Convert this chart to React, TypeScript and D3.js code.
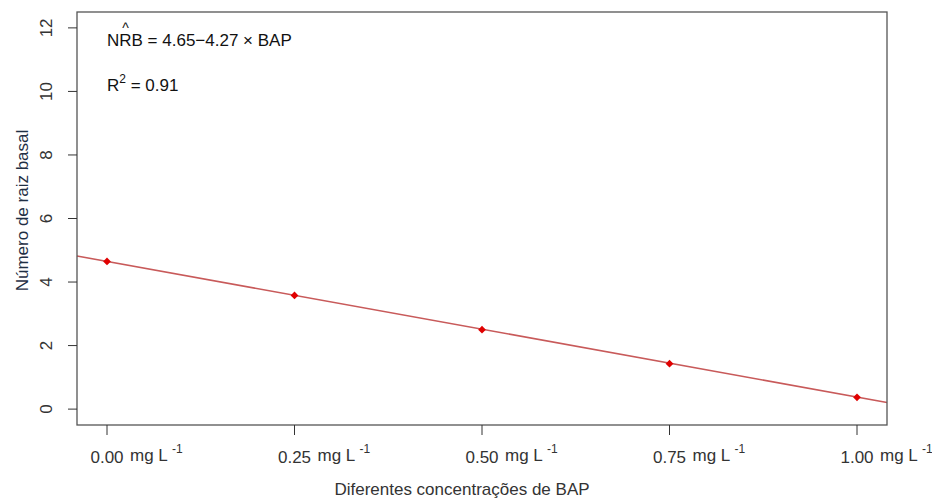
import React, { useRef, useEffect } from "react";
import * as d3 from "d3";

const doses = [0, 0.25, 0.5, 0.75, 1.0];
const roots = [4.65, 3.58, 2.5, 1.43, 0.37];
const xTicks = [0, 0.25, 0.5, 0.75, 1.0];
const yTicks = [0, 2, 4, 6, 8, 10, 12];
const intercept = 4.65;
const slope = -4.27;

const W = 932;
const H = 499;
const margin = { top: 12, right: 45, bottom: 74, left: 77 };

const App = () => {
  const svgRef = useRef<SVGSVGElement>(null);

  useEffect(() => {
    const svg = d3.select(svgRef.current);
    svg.selectAll("*").remove();

    const font = "'Liberation Sans', Arial, sans-serif";
    const fs = "17px";

    const x = d3.scaleLinear().domain([-0.04, 1.04]).range([margin.left, W - margin.right]);
    const y = d3.scaleLinear().domain([-0.5, 12.5]).range([H - margin.bottom, margin.top]);

    svg.append("rect").attr("width", W).attr("height", H).attr("fill", "#ffffff");

    // fitted line across the plot box
    const [x0, x1] = x.domain();
    svg.append("line")
      .attr("x1", x(x0)).attr("y1", y(intercept + slope * x0))
      .attr("x2", x(x1)).attr("y2", y(intercept + slope * x1))
      .attr("stroke", "#c85a5a")
      .attr("stroke-width", 1.6);

    // points (filled diamonds)
    svg.selectAll(".pt")
      .data(doses)
      .enter()
      .append("path")
      .attr("class", "pt")
      .attr("d", d3.symbol(d3.symbolSquare, 30)())
      .attr("transform", (d, i) => `translate(${x(d)},${y(roots[i])}) rotate(45)`)
      .attr("fill", "#e00000");

    // plot box
    svg.append("rect")
      .attr("x", margin.left)
      .attr("y", margin.top)
      .attr("width", W - margin.left - margin.right)
      .attr("height", H - margin.top - margin.bottom)
      .attr("fill", "none")
      .attr("stroke", "#555555")
      .attr("stroke-width", 1.3);

    // y axis
    const yAxis = svg.append("g");
    yAxis.selectAll("line")
      .data(yTicks)
      .enter()
      .append("line")
      .attr("x1", margin.left - 9).attr("x2", margin.left)
      .attr("y1", (d) => y(d)).attr("y2", (d) => y(d))
      .attr("stroke", "#333333");
    yAxis.selectAll("text")
      .data(yTicks)
      .enter()
      .append("text")
      .attr("transform", (d) => `translate(52,${y(d)}) rotate(-90)`)
      .attr("text-anchor", "middle")
      .style("font-family", font)
      .style("font-size", fs)
      .attr("fill", "#333333")
      .text((d) => d);

    // x axis
    const xb = H - margin.bottom;
    const xAxis = svg.append("g");
    xAxis.selectAll("line")
      .data(xTicks)
      .enter()
      .append("line")
      .attr("x1", (d) => x(d)).attr("x2", (d) => x(d))
      .attr("y1", xb).attr("y2", xb + 10)
      .attr("stroke", "#333333");
    const lbl = xAxis.selectAll(".xl")
      .data(xTicks)
      .enter()
      .append("g")
      .attr("class", "xl")
      .attr("transform", (d) => `translate(${x(d)},0)`);
    lbl.append("text")
      .attr("y", 463)
      .attr("text-anchor", "middle")
      .style("font-family", font)
      .style("font-size", fs)
      .attr("fill", "#333333")
      .text((d) => d3.format(".2f")(d));
    const unit = lbl.append("text")
      .attr("x", 23)
      .attr("y", 461)
      .style("font-family", font)
      .style("font-size", fs)
      .attr("fill", "#333333");
    unit.append("tspan").text("mg L ");
    unit.append("tspan")
      .attr("dy", -8)
      .style("font-size", "12px")
      .text("-1");

    // axis titles
    svg.append("text")
      .attr("x", 462)
      .attr("y", 495)
      .attr("text-anchor", "middle")
      .style("font-family", font)
      .style("font-size", fs)
      .attr("fill", "#333333")
      .text("Diferentes concentrações de BAP");

    svg.append("text")
      .attr("transform", `translate(28,${(margin.top + xb) / 2 - 8}) rotate(-90)`)
      .attr("text-anchor", "middle")
      .style("font-family", font)
      .style("font-size", fs)
      .attr("fill", "#1f2f44")
      .text("Número de raiz basal");

    // equation with a hat over the R
    const eq = svg.append("text")
      .attr("x", 107)
      .attr("y", 46)
      .style("font-family", font)
      .style("font-size", fs)
      .attr("fill", "#111111");
    eq.append("tspan").text("NR");
    const hat = eq.append("tspan").attr("dy", -13).style("font-size", "14px").text("^");
    const tail = eq.append("tspan").attr("dy", 13).text("B = 4.65\u22124.27 \u00d7 BAP");
    const node = eq.node() as SVGTextElement;
    const wN = node.getSubStringLength(0, 1);
    const wR = node.getSubStringLength(1, 1);
    const wHat = (hat.node() as SVGTSpanElement).getComputedTextLength();
    const shift = -(wR + wHat) / 2;
    hat.attr("dx", shift);
    tail.attr("dx", -shift - wHat);
    void wN;

    const r2 = svg.append("text")
      .attr("x", 107)
      .attr("y", 91)
      .style("font-family", font)
      .style("font-size", fs)
      .attr("fill", "#111111");
    r2.append("tspan").text("R");
    r2.append("tspan").attr("dy", -8).style("font-size", "12px").text("2");
    r2.append("tspan").attr("dy", 8).text(" = 0.91");
  }, []);

  return (
    <div>
      <svg ref={svgRef} width={W} height={H} style={{ position: "absolute", left: 0, top: 0 }}></svg>
    </div>
  );
};

export default App;
